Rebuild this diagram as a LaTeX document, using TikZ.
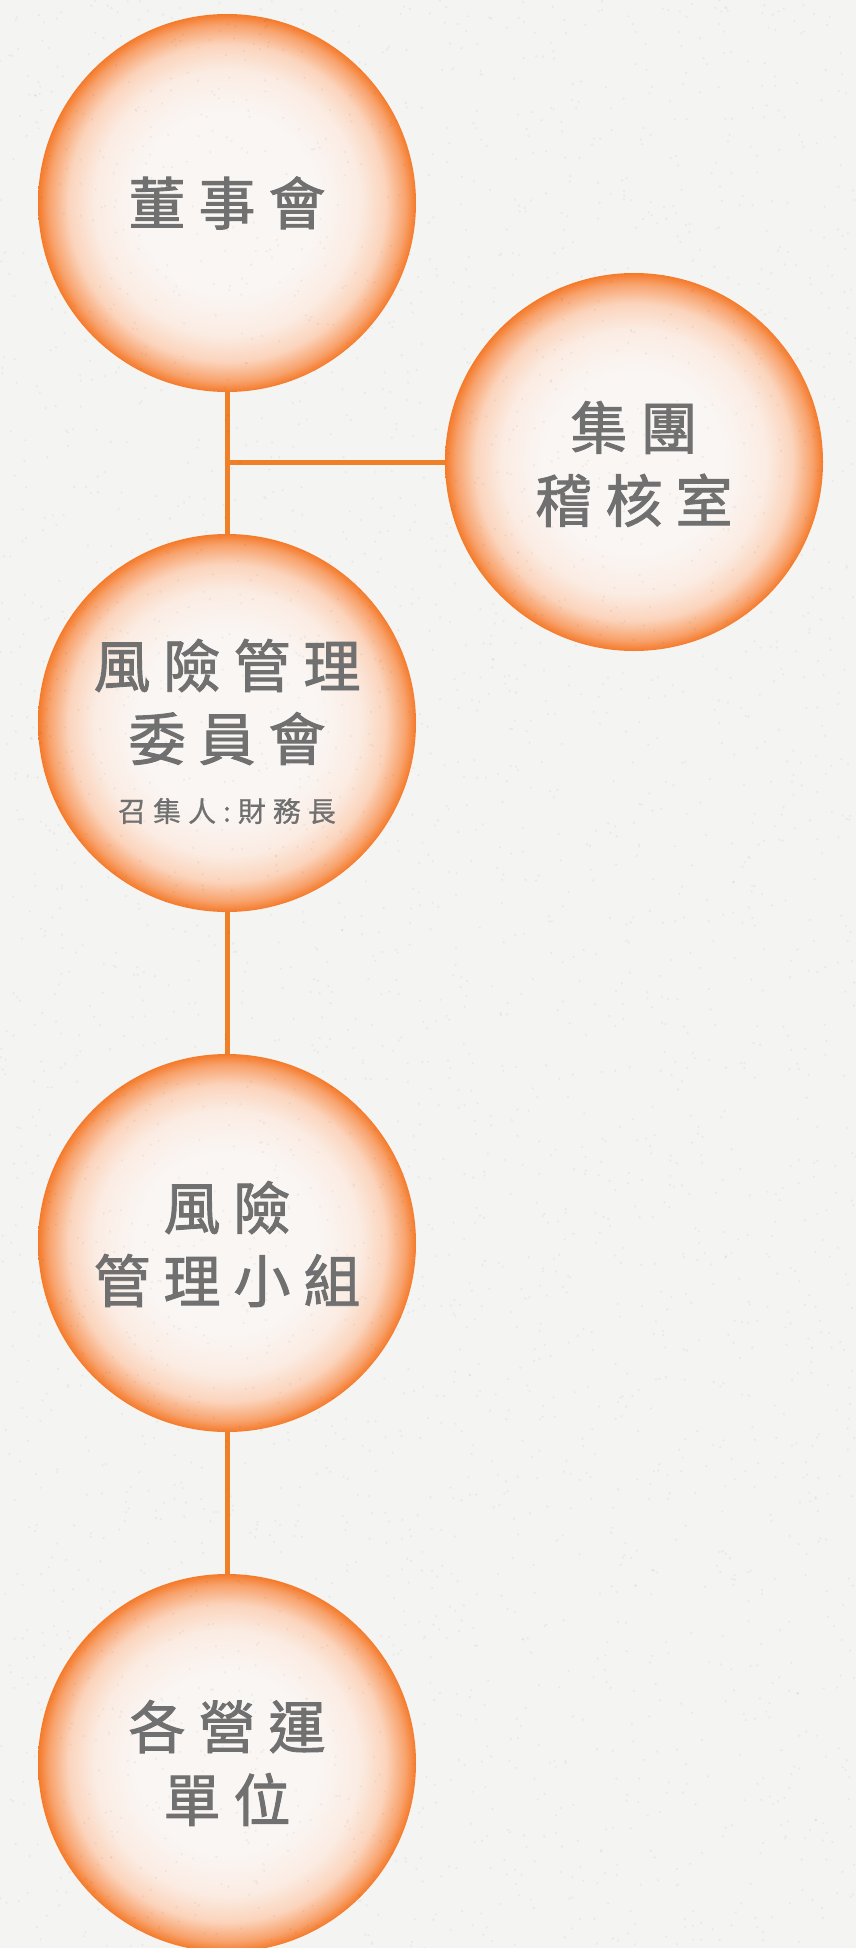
\documentclass[tikz,border=0pt]{standalone}
\usepackage{fontspec}
\usetikzlibrary{backgrounds}
\newfontfamily\cjk{Noto Sans CJK TC}[FakeBold=0.8]
\newfontfamily\cjkm{Noto Sans CJK TC}[FakeBold=1.6]
\definecolor{bgc}{RGB}{244,244,242}
\definecolor{linec}{RGB}{239,128,40}
\definecolor{txtc}{RGB}{112,112,112}
\definecolor{orbA}{RGB}{250,246,244}
\definecolor{orbB}{RGB}{251,236,227}
\definecolor{orbM}{RGB}{251,212,188}
\definecolor{orbL}{RGB}{248,162,108}
\definecolor{orbE}{RGB}{244,122,42}
\pgfdeclareradialshading{orb}{\pgfpoint{0bp}{0bp}}{color(0bp)=(orbA); color(12bp)=(orbA); color(17.5bp)=(orbB); color(21bp)=(orbM); color(23.6bp)=(orbL); color(25bp)=(orbE); color(50bp)=(orbE)}
\newcommand{\ls}{\hspace{13pt}}
\newcommand{\lss}{\hspace{7pt}}
\tikzset{
  orbnode/.style={circle, minimum size=378pt, inner sep=0pt, shading=orb},
  bigtxt/.style={text=txtc, align=center, font=\cjkm\fontsize{57pt}{73pt}\selectfont, inner sep=0pt},
  smalltxt/.style={text=txtc, align=center, font=\cjk\fontsize{28pt}{34pt}\selectfont, inner sep=0pt},
  conn/.style={draw=linec, line width=5pt},
  speck/.style={fill=black, fill opacity=0.045}
}
\begin{document}
\begin{tikzpicture}[x=1pt,y=-1pt]
\useasboundingbox (0,0) rectangle (856,1948);
\node[orbnode] (n1) at (227,203) {};
\node[orbnode] (n2) at (634,462) {};
\node[orbnode] (n3) at (227,723) {};
\node[orbnode] (n4) at (227,1243) {};
\node[orbnode] (n5) at (227,1763) {};
\coordinate (j) at (n1.south |- n2.west);
\begin{scope}[on background layer]
\fill[bgc] (0,0) rectangle (856,1948);
\draw[conn] (n1.south) -- (n3.north);
\draw[conn] (j) -- (n2.west);
\draw[conn] (n3.south) -- (n4.north);
\draw[conn] (n4.south) -- (n5.north);
\end{scope}
\pgfmathsetseed{4242}
\foreach \i in {1,...,3500}{
  \pgfmathsetmacro{\px}{856*rnd}
  \pgfmathsetmacro{\py}{1948*rnd}
  \fill[speck] (\px,\py) circle (1.3pt);
}
\node[bigtxt] (t1) at (227,203) {董\ls 事\ls 會};
\node[bigtxt] (t2) at (634,464) {集\ls 團\\稽\ls 核\ls 室};
\node[bigtxt] (t3) at (227,702) {風\ls 險\ls 管\ls 理\\委\ls 員\ls 會};
\node[smalltxt] (t3b) at (227,811) {召\lss 集\lss 人\lss :\lss 財\lss 務\lss 長};
\node[bigtxt] (t4) at (227,1244) {風\ls 險\\管\ls 理\ls 小\ls 組};
\node[bigtxt] (t5) at (227,1763) {各\ls 營\ls 運\\單\ls 位};
\end{tikzpicture}
\end{document}
